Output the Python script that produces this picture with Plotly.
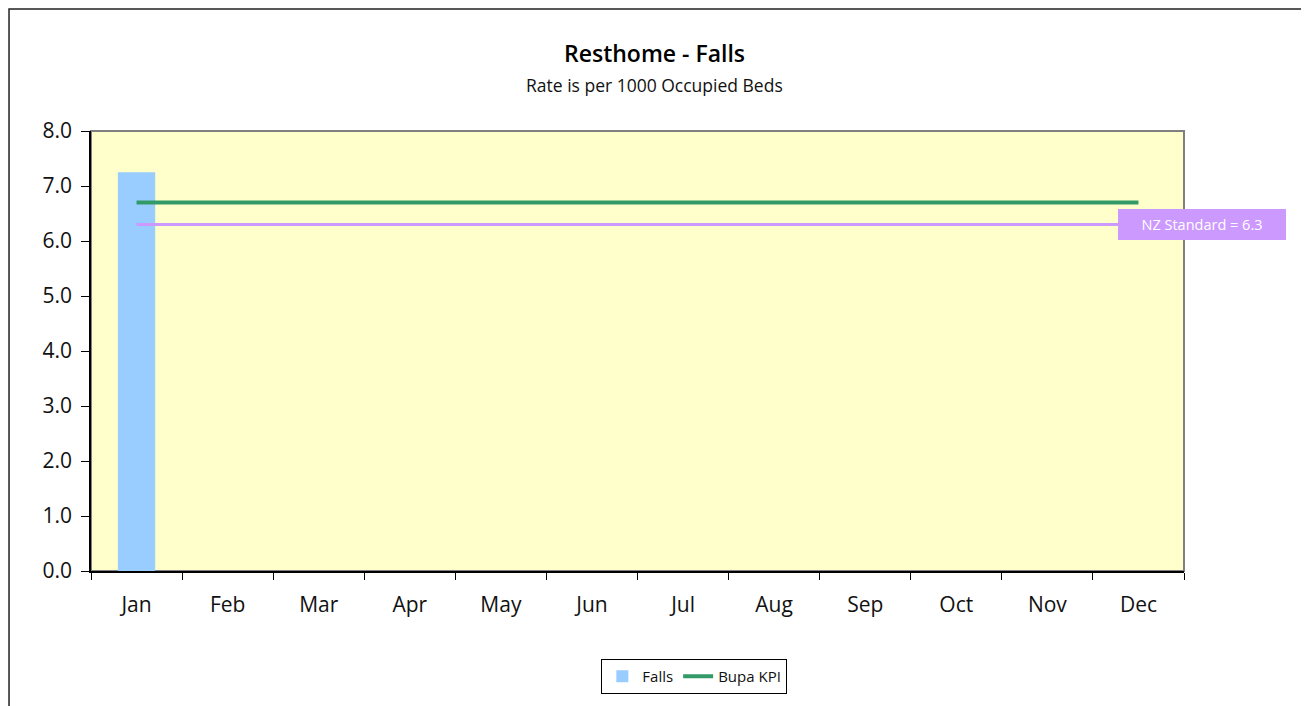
import plotly.graph_objects as go

months = ["Jan", "Feb", "Mar", "Apr", "May", "Jun", "Jul", "Aug", "Sep", "Oct", "Nov", "Dec"]
falls = [7.25, None, None, None, None, None, None, None, None, None, None, None]
bupa_kpi = [6.7] * 12
nz_standard = [6.3] * 12
y_ticks = [0, 1, 2, 3, 4, 5, 6, 7, 8]

FONT = "Open Sans"

fig = go.Figure()
fig.add_trace(go.Bar(x=months, y=falls, name="Falls", marker=dict(color="#99CCFF", line=dict(width=0)),
                     width=0.41))
fig.add_trace(go.Scatter(x=months, y=nz_standard, name="NZ Standard", mode="lines",
                         line=dict(color="#CC99FF", width=3), showlegend=False))
fig.add_trace(go.Scatter(x=months, y=bupa_kpi, name="Bupa KPI", mode="lines",
                         line=dict(color="#339966", width=4)))

fig.update_layout(
    width=1301, height=698,
    margin=dict(l=83, r=125, t=123, b=135),
    paper_bgcolor="white",
    plot_bgcolor="#FFFFCC",
    font=dict(family=FONT, color="#111"),
    xaxis=dict(
        type="category", categoryorder="array", categoryarray=months,
        range=[-0.5, 11.5], showgrid=False, zeroline=False,
        showline=True, linecolor="#000", linewidth=1.5,
        ticks="outside", tickson="boundaries", ticklen=7, tickcolor="#000", tickwidth=1,
        tickfont=dict(size=21, family=FONT, color="#111"), ticklabelstandoff=14,
    ),
    yaxis=dict(
        range=[0, 8], tickvals=y_ticks, tickformat=".1f", showgrid=False, zeroline=False,
        showline=True, linecolor="#000", linewidth=1.5,
        ticks="outside", ticklen=8, tickcolor="#000", tickwidth=1,
        tickfont=dict(size=21, family=FONT, color="#111"), ticklabelstandoff=5,
    ),
    legend=dict(
        orientation="h", x=0.552, xanchor="center", y=-0.2, yanchor="top",
        bordercolor="#000", borderwidth=1, bgcolor="white",
        font=dict(size=15, family=FONT, color="#111"),
    ),
    shapes=[
        dict(type="rect", xref="paper", yref="paper", x0=0, x1=1, y0=0, y1=1,
             line=dict(color="#808080", width=2), layer="below"),
        dict(type="rect", xref="paper", yref="paper", x0=-0.075, x1=1.113, y0=-0.6, y1=1.277,
             line=dict(color="#222", width=1.5)),
    ],
    annotations=[
        dict(text="Resthome - Falls", xref="paper", yref="paper", x=0.5155, y=1.177,
             xanchor="center", yanchor="middle", showarrow=False,
             font=dict(size=23, family=FONT, color="#000", weight=600)),
        dict(text="Rate is per 1000 Occupied Beds", xref="paper", yref="paper", x=0.5155, y=1.1045,
             xanchor="center", yanchor="middle", showarrow=False,
             font=dict(size=17.5, family=FONT, color="#111")),
        dict(text="NZ Standard = 6.3", xref="paper", yref="y", x=1.0165, y=6.3,
             xanchor="center", yanchor="middle", showarrow=False,
             width=164, height=27, borderpad=2, bgcolor="#CC99FF",
             bordercolor="#E0C4FF", borderwidth=0,
             font=dict(size=14.5, family=FONT, color="#FFFFFF")),
    ],
)

fig.write_html("out.html")
